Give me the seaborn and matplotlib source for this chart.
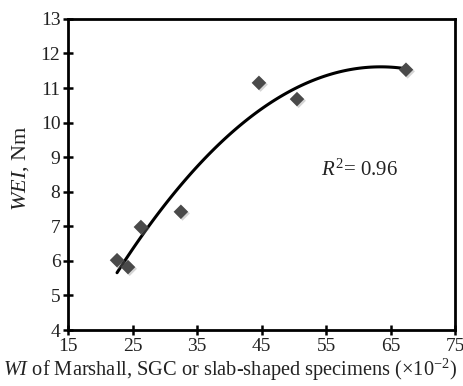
import numpy as np
import pandas as pd
import matplotlib
matplotlib.use("Agg")
import matplotlib.pyplot as plt
import matplotlib.patheffects as pe
import seaborn as sns

# values
wi = [22.6, 24.3, 26.3, 32.5, 44.6, 50.5, 67.4]
wei = [6.02, 5.82, 6.98, 7.42, 11.15, 10.68, 11.53]
x_ticks = [15, 25, 35, 45, 55, 65, 75]
y_ticks = [4, 5, 6, 7, 8, 9, 10, 11, 12, 13]

sns.set_style("ticks")
plt.rcParams['font.family'] = ['Liberation Serif', 'DejaVu Serif']
plt.rcParams['mathtext.fontset'] = 'custom'
plt.rcParams['mathtext.rm'] = 'Liberation Serif'
plt.rcParams['mathtext.it'] = 'Liberation Serif:italic'

df = pd.DataFrame({'wi': wi, 'wei': wei})

fig = plt.figure(figsize=(4.64, 3.86), dpi=100)
ax = fig.add_axes([0.1466, 0.145, 0.834, 0.806])

# second-order trendline
sns.regplot(x='wi', y='wei', data=df, order=2, ci=None, scatter=False,
            truncate=True, color='black', line_kws={'linewidth': 2.2}, ax=ax)

# data points
sns.scatterplot(x='wi', y='wei', data=df, marker='D', s=55, color='#4a4a4a',
                edgecolor='none', ax=ax, zorder=3)
ax.collections[-1].set_path_effects([
    pe.SimplePatchShadow(offset=(1.2, -1.2), shadow_rgbFace='#888888', alpha=0.35),
    pe.Normal()])

ax.set_xlim(15, 75)
ax.set_ylim(4, 13)
ax.set_xticks(x_ticks)
ax.set_yticks(y_ticks)
ax.tick_params(direction='inout', length=7, width=1.8, labelsize=14,
               colors='black', labelcolor='#222222', pad=2)
for sp in ax.spines.values():
    sp.set_visible(True)
    sp.set_linewidth(2)
    sp.set_color('black')

ax.set_xlabel(r"$\mathit{WI}$ of Marshall, SGC or slab-shaped specimens ($\times$10$^{-2}$)",
              fontsize=14.7, color='#222222', ha='left')
ax.xaxis.set_label_coords(-0.168, -0.085)
ax.set_ylabel(r"$\mathit{WEI}$, Nm", fontsize=16, color='#222222')
ax.yaxis.set_label_coords(-0.095, 0.52)

ax.text(54.2, 8.63, r"$\mathit{R}^2$= 0.96", fontsize=15, color='#222222',
        va='center', ha='left')

fig.savefig("out.png", dpi=100)
